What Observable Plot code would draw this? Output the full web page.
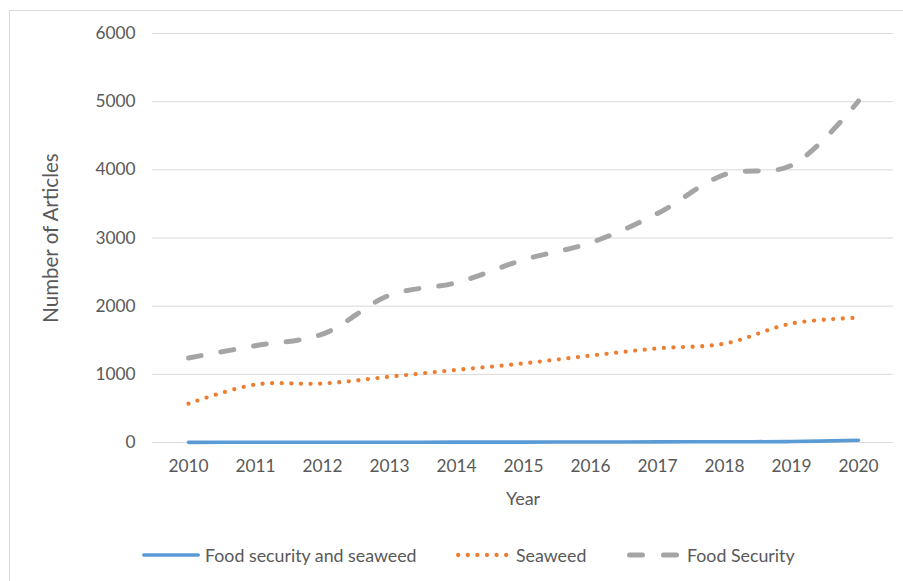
<!DOCTYPE html>
<html>
<head>
<meta charset="utf-8">
<script src="https://cdn.jsdelivr.net/npm/d3@7"></script>
<script src="https://cdn.jsdelivr.net/npm/@observablehq/plot@0.6"></script>
<style>
  html, body { margin: 0; padding: 0; background: #fff; }
  #wrap { position: relative; width: 903px; height: 581px; overflow: hidden; font-family: Lato, "Open Sans", sans-serif; color: #595959; }
  #frame { position: absolute; left: 9px; top: 10px; width: 900px; height: 580px; border: 1px solid #d9d9d9; box-sizing: border-box; }
  #chart { position: absolute; left: 0; top: 0; }
  #legend { position: absolute; left: 0; top: 543px; width: 903px; height: 24px; }
  .item { position: absolute; top: 0; height: 24px; display: flex; align-items: center; font-size: 17.8px; white-space: nowrap; }
  .item svg { margin-right: 5px; }
  #chart svg g[aria-label="y-axis label"] text { font-size: 20.5px; }
  #chart svg g[aria-label="x-axis label"] text { font-size: 18px; }
</style>
</head>
<body>
<div id="wrap">
  <div id="frame"></div>
  <div id="chart"></div>
  <div id="legend"></div>
</div>
<script>
const years = [2010, 2011, 2012, 2013, 2014, 2015, 2016, 2017, 2018, 2019, 2020];
const seriesNames = ["Food security and seaweed", "Seaweed", "Food Security"];
const foodSecurityAndSeaweed = [2, 3, 3, 4, 5, 6, 7, 9, 11, 14, 32];
const seaweed = [570, 850, 865, 965, 1065, 1160, 1275, 1380, 1450, 1745, 1830];
const foodSecurity = [1240, 1420, 1590, 2160, 2345, 2680, 2930, 3360, 3930, 4065, 5010];
const yTicks = [0, 1000, 2000, 3000, 4000, 5000, 6000];

const colors = ["#5B9BD5", "#ED7D31", "#A5A5A5"];
const styles = [
  {strokeWidth: 3.6, strokeDasharray: null, strokeLinecap: "round"},
  {strokeWidth: 4.3, strokeDasharray: "0 9.6", strokeLinecap: "round"},
  {strokeWidth: 5, strokeDasharray: "13 20", strokeLinecap: "round"}
];
const allValues = [foodSecurityAndSeaweed, seaweed, foodSecurity];
const rows = allValues.map((vals, i) => years.map((y, j) => ({year: String(y), value: vals[j], series: seriesNames[i]})));

const chart = Plot.plot({
  width: 903,
  height: 520,
  marginLeft: 152,
  marginRight: 10,
  marginTop: 33,
  marginBottom: 78,
  style: {fontFamily: "Lato, 'Open Sans', sans-serif", fontSize: "17.3px", color: "#595959", background: "transparent"},
  x: {type: "point", domain: years.map(String), padding: 0.5, label: "Year"},
  y: {domain: [0, 6000], ticks: yTicks, label: "Number of Articles"},
  marks: [
    Plot.ruleY(yTicks, {stroke: "#d9d9d9", strokeWidth: 1}),
    Plot.axisY({ticks: yTicks, tickSize: 0, tickPadding: 17, tickFormat: d => String(d), label: "Number of Articles", labelAnchor: "center", labelArrow: "none", labelOffset: 109, fill: "#595959"}),
    Plot.axisX({tickSize: 0, tickPadding: 17, label: "Year", labelAnchor: "center", labelArrow: "none", labelOffset: 62, fill: "#595959"}),
    ...rows.slice().reverse().map((r, k) => {
      const i = 2 - k;
      return Plot.line(r, {x: "year", y: "value", stroke: colors[i], curve: "catmull-rom", ...styles[i]});
    })
  ]
});
document.getElementById("chart").appendChild(chart);

const legendPos = [142, 456, 627];
const legend = document.getElementById("legend");
seriesNames.forEach((name, i) => {
  const d = document.createElement("div");
  d.className = "item";
  d.style.left = legendPos[i] + "px";
  const st = styles[i];
  const sw = i === 0 ? 58 : 55;
  d.innerHTML = `<svg width="${sw}" height="10"><line x1="${st.strokeWidth/2}" x2="${sw - st.strokeWidth/2}" y1="5" y2="5" stroke="${colors[i]}" stroke-width="${st.strokeWidth}" stroke-linecap="round" ${st.strokeDasharray ? `stroke-dasharray="${i===2 ? '13 21' : st.strokeDasharray}"` : ""}/></svg><span>${name}</span>`;
  legend.appendChild(d);
});
</script>
</body>
</html>
